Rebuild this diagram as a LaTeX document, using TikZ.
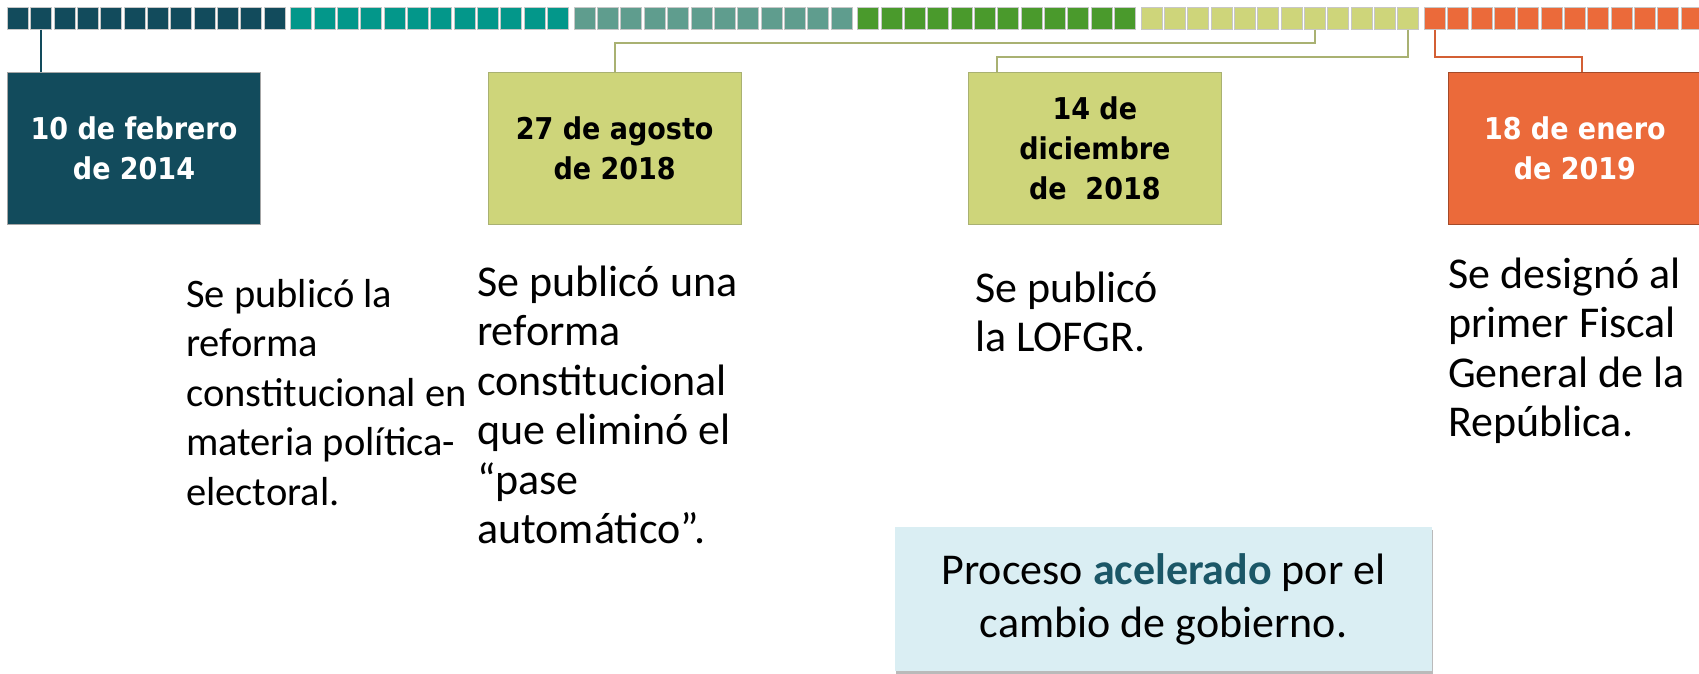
\documentclass[tikz,border=0pt]{standalone}
\usepackage{fontspec}
\setmainfont{Carlito}
\newfontfamily\datefont{DejaVu Sans Condensed}
\usetikzlibrary{calc,shadows}
\definecolor{cdark}{HTML}{124B5C}
\definecolor{cteal}{HTML}{03978A}
\definecolor{cgteal}{HTML}{5F9D8E}
\definecolor{cgreen}{HTML}{4A9A2C}
\definecolor{clight}{HTML}{CED57A}
\definecolor{corange}{HTML}{EB6A3A}
\definecolor{colive}{HTML}{A9B172}
\definecolor{cblue}{HTML}{DAEEF3}
\definecolor{cacc}{HTML}{1B5767}
\tikzset{
  sq/.style={minimum width=21pt, minimum height=22pt, inner sep=0pt, draw=black!22, line width=0.6pt},
  datebox/.style={minimum width=253.4pt, minimum height=152pt, inner sep=0pt, align=center,
    line width=0.8pt, font=\datefont\bfseries\fontsize{30}{40}\selectfont},
  desc/.style={anchor=base west, inner sep=0pt, align=left, font=\fontsize{44}{49.5}\selectfont},
  conn/.style={line width=2.2pt},
}
\begin{document}
\begin{tikzpicture}[x=1pt,y=-1pt]
\useasboundingbox (0,0) rectangle (1699,674);
% timeline bar
\foreach \g/\c in {0/cdark,1/cteal,2/cgteal,3/cgreen,4/clight,5/corange}{
  \foreach \k in {0,...,11}{
    \node[sq, fill=\c] (sq-\g-\k) at ({7.3+\g*283.4+\k*23.34+10.5},18.3) {};
  }
}
% date boxes
\node[datebox, fill=cdark, draw=black!35, text=white] (b1) at (134,148) {10 de febrero\\de 2014};
\node[datebox, fill=clight, draw=colive, text=black] (b2) at (614.7,148) {27 de agosto\\de 2018};
\node[datebox, fill=clight, draw=colive, text=black] (b3) at (1094.85,148) {14 de\\diciembre\\de\ \ 2018};
\node[datebox, fill=corange, draw=corange!70!black, text=white] (b4) at (1574.85,148) {18 de enero\\de 2019};
% connectors
\coordinate (j2) at (615,42.7);
\coordinate (j3) at (996.7,57.3);
\coordinate (j4) at (1581.7,57.3);
\draw[conn, cdark] (sq-0-1.south) -- (sq-0-1.south |- b1.north);
\draw[conn, colive] (sq-4-7.south) |- (j2) -- (j2 |- b2.north);
\draw[conn, colive] (sq-4-11.south) |- (j3) -- (j3 |- b3.north);
\draw[conn, corange!90!black] (sq-5-0.south) |- (j4) -- (j4 |- b4.north);
% descriptions (anchored at the baseline of the last line)
\node[desc, font=\fontsize{40.5}{49.5}\selectfont] (t1) at (186,505) {Se publicó la\\reforma\\constitucional en\\materia política-\\electoral.};
\node[desc] (t2) at (477,543.5) {Se publicó una\\reforma\\constitucional\\que eliminó el\\“pase\\automático”.};
\node[desc] (t3) at (975,351.5) {Se publicó\\la LOFGR.};
\node[desc] (t4) at (1448,436.5) {Se designó al\\primer Fiscal\\General de la\\República.};
% note box
\node[fill=cblue, minimum width=537pt, minimum height=144pt, inner sep=0pt, align=center,
  drop shadow={shadow xshift=1pt, shadow yshift=-3pt, opacity=0.45, fill=black!60},
  font=\fontsize{44}{53}\selectfont] (pb) at (1163.5,599)
  {Proceso \textbf{\textcolor{cacc}{acelerado}} por el\\cambio de gobierno.};
\end{tikzpicture}
\end{document}
